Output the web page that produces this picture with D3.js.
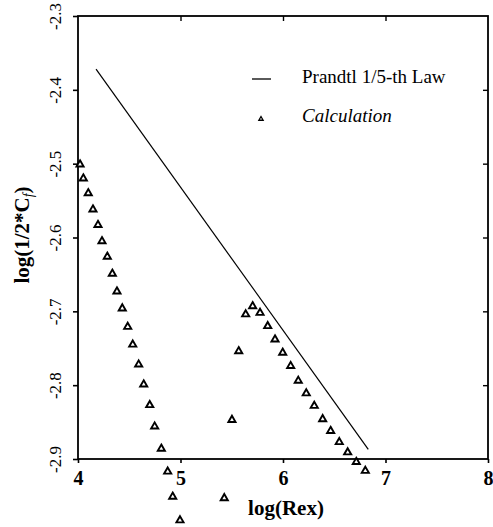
<!DOCTYPE html>
<html><head><meta charset="utf-8">
<script src="https://cdn.jsdelivr.net/npm/d3@7"></script>
<style>body{margin:0;background:#fff}svg{display:block}</style></head>
<body><svg id="c" width="493" height="527"></svg>
<script>
// ---- data ----
const xTicks = [4, 5, 6, 7, 8];
const xTickLabels = ["4", "5", "6", "7", "8"];
const yTicks = [-2.9, -2.8, -2.7, -2.6, -2.5, -2.4, -2.3];
const yTickLabels = ["-2.9", "-2.8", "-2.7", "-2.6", "-2.5", "-2.4", "-2.3"];

// Calculation (triangles)
const calcX = [4.02, 4.052, 4.100, 4.146, 4.195, 4.234, 4.286, 4.335, 4.380, 4.432,
               4.485, 4.534, 4.592, 4.641, 4.700, 4.748, 4.813, 4.875, 4.924, 4.995,
               5.427, 5.502, 5.568, 5.636, 5.704, 5.776, 5.851, 5.922, 5.997, 6.075,
               6.149, 6.227, 6.305, 6.387, 6.465, 6.549, 6.631, 6.715, 6.803];
const calcY = [-2.501, -2.520, -2.540, -2.562, -2.583, -2.605, -2.626, -2.649, -2.673, -2.696,
               -2.721, -2.745, -2.772, -2.799, -2.827, -2.856, -2.886, -2.917, -2.951, -2.983,
               -2.953, -2.847, -2.754, -2.704, -2.693, -2.702, -2.720, -2.738, -2.756, -2.774,
               -2.794, -2.811, -2.828, -2.846, -2.862, -2.877, -2.891, -2.904, -2.916];

// Prandtl 1/5-th law (line)
const lawX = [4.176, 6.832];
const lawY = [-2.372, -2.887];

const legendLabels = ["Prandtl 1/5-th Law", "Calculation"];

// ---- drawing ----
const svg = d3.select("#c");
const L = 78, R = 488, T = 16, B = 459;
const x = d3.scaleLinear().domain([4, 8]).range([L, R]);
const y = d3.scaleLinear().domain([-2.9, -2.3]).range([B, T]);
const serif = "'Liberation Serif','Times New Roman',serif";

// frame
svg.append("rect").attr("x", L).attr("y", T).attr("width", R - L).attr("height", B - T)
  .attr("fill", "none").attr("stroke", "#000").attr("stroke-width", 1.8);

// left axis
const gl = svg.append("g").attr("transform", `translate(${L},0)`)
  .call(d3.axisLeft(y).tickValues(yTicks).tickSize(5).tickSizeOuter(0)
    .tickFormat((d, i) => yTickLabels[i]));
gl.select(".domain").remove();
gl.selectAll(".tick line").attr("stroke-width", 1.6);
gl.selectAll(".tick text").attr("x", null).attr("dy", null)
  .attr("transform", "translate(-17,0) rotate(-90)")
  .attr("text-anchor", "middle").attr("fill", "#000")
  .style("font-family", serif).style("font-size", "17px");

// right axis (inward ticks)
const gr = svg.append("g").attr("transform", `translate(${R},0)`)
  .call(d3.axisLeft(y).tickValues(yTicks.slice(1, -1)).tickSize(5).tickSizeOuter(0).tickFormat(""));
gr.select(".domain").remove();
gr.selectAll(".tick line").attr("stroke-width", 1.4);

// bottom axis
const gb = svg.append("g").attr("transform", `translate(0,${B})`)
  .call(d3.axisBottom(x).tickValues(xTicks).tickSize(4).tickSizeOuter(0)
    .tickFormat((d, i) => xTickLabels[i]));
gb.select(".domain").remove();
gb.selectAll(".tick line").attr("stroke-width", 1.6);
gb.selectAll(".tick text").attr("dy", null).attr("y", 26).attr("fill", "#000")
  .style("font-family", serif).style("font-size", "20px").style("font-weight", "bold");

// top axis (inward ticks)
const gt = svg.append("g").attr("transform", `translate(0,${T})`)
  .call(d3.axisTop(x).tickValues(xTicks.slice(1, -1)).tickSize(-5).tickSizeOuter(0).tickFormat(""));
gt.select(".domain").remove();
gt.selectAll(".tick line").attr("stroke-width", 1.4);

// law line
svg.append("path")
  .datum(lawX.map((v, i) => [v, lawY[i]]))
  .attr("d", d3.line().x(d => x(d[0])).y(d => y(d[1])))
  .attr("fill", "none").attr("stroke", "#000").attr("stroke-width", 1.2);

// calculation markers
const tri = d3.symbol().type(d3.symbolTriangle).size(22);
svg.append("g").selectAll("path")
  .data(calcX.map((v, i) => [v, calcY[i]]))
  .join("path")
  .attr("d", tri)
  .attr("transform", d => `translate(${x(d[0])},${y(d[1])})`)
  .attr("fill", "#fff").attr("stroke", "#000").attr("stroke-width", 1.9);

// legend
svg.append("line").attr("x1", 252).attr("x2", 271).attr("y1", 79).attr("y2", 79)
  .attr("stroke", "#000").attr("stroke-width", 1.3);
svg.append("text").attr("x", 302).attr("y", 83).text(legendLabels[0])
  .style("font-family", serif).style("font-size", "19px");
svg.append("path").attr("d", d3.symbol().type(d3.symbolTriangle).size(8))
  .attr("transform", "translate(261,119)")
  .attr("fill", "#fff").attr("stroke", "#000").attr("stroke-width", 1.3);
svg.append("text").attr("x", 302).attr("y", 122).text(legendLabels[1])
  .style("font-family", serif).style("font-size", "19px").style("font-style", "italic");

// axis titles
svg.append("text").attr("x", 286).attr("y", 515).attr("text-anchor", "middle")
  .style("font-family", serif).style("font-size", "21px").style("font-weight", "bold")
  .text("log(Rex)");
const yt = svg.append("text").attr("transform", "translate(29,235) rotate(-90)")
  .attr("text-anchor", "middle")
  .style("font-family", serif).style("font-size", "21px").style("font-weight", "bold");
yt.append("tspan").text("log(1/2*C");
yt.append("tspan").text("f").style("font-size", "14px").style("font-weight", "normal")
  .style("font-style", "italic").attr("dy", "4");
yt.append("tspan").text(")").attr("dy", "-4");
</script>
</body></html>
